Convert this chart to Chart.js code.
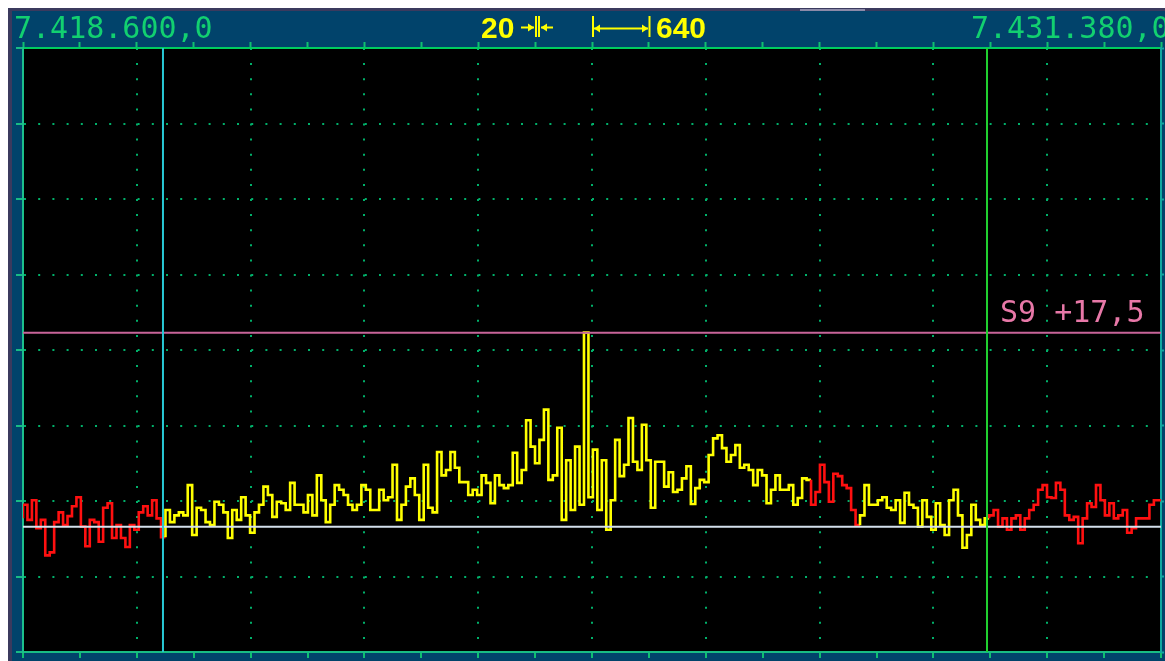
<!DOCTYPE html>
<html lang="pt">
<head>
<meta charset="UTF-8">
<title>Espectro</title>
<script src="https://cdn.jsdelivr.net/npm/chart.js"></script>
<style>
    body { margin: 0; background: #ffffff; }
    .janela { position: absolute; left: 8px; top: 8px; width: 1157px; height: 653px; background: #3b3a5e; }
    .painel { position: absolute; left: 4px; top: 3px; right: 0; bottom: 0; background: #01436b; }
    .barra { position: absolute; left: 792px; top: 1px; width: 65px; height: 2px; background: #8c8aa8; }
    canvas { position: absolute; left: 0; top: 0; }
</style>
</head>
<body>
<div class="janela"><div class="barra"></div><div class="painel"></div></div>
<canvas id="espectro" width="1165" height="661"></canvas>

<script>
    // faixa mostrada (Hz) e largura de cada barra do espectro
    var freqIni = 7418600;
    var freqFim = 7431380;
    var larguraBin = 50;
    var passoTick = 639;

    var rotulosFreq = ['7.418.600,0', '7.431.380,0'];
    var textoResolucao = '20';
    var textoPasso = '640';
    var rotuloNivel = 'S9 +17,5';

    // niveis em dB (0 = base da grade, 10 dB por divisao)
    var niveisY = [0, 10, 20, 30, 40, 50, 60, 70, 80];
    var nivelRef = 42.3;
    var nivelRuido = 16.6;

    // marcadores do filtro
    var marcadorIni = 7420172;
    var marcadorFim = 7429426;
    var zonasVermelhas = [[7418600, 7420172], [7427430, 7427980], [7429426, 7431400]];

    var niveis = [
        17.7, 19.5, 17.5, 20.1, 16.4, 17.5, 12.8, 13.2, 17.2, 18.5,
        16.8, 18.0, 19.3, 20.5, 16.6, 14.0, 17.5, 17.2, 14.6, 19.1,
        19.7, 15.1, 16.8, 15.1, 13.9, 16.8, 16.2, 18.5, 19.3, 18.1,
        20.1, 17.7, 15.2, 18.8, 17.2, 18.1, 18.5, 18.1, 22.1, 15.5,
        19.1, 18.8, 17.2, 16.8, 19.9, 19.5, 18.5, 15.1, 18.8, 17.5,
        20.5, 18.1, 15.8, 18.5, 19.5, 21.9, 20.8, 17.9, 19.9, 19.7,
        18.8, 22.4, 19.5, 19.5, 18.5, 20.8, 18.1, 23.4, 20.1, 17.2,
        19.5, 22.1, 21.5, 20.8, 19.5, 18.8, 19.5, 22.1, 21.5, 18.8,
        18.8, 21.5, 20.1, 20.5, 24.8, 17.5, 19.5, 21.9, 23.0, 20.8,
        17.5, 24.8, 19.1, 18.5, 26.5, 23.4, 24.1, 26.5, 24.4, 22.5,
        22.5, 20.8, 21.5, 20.8, 23.4, 22.4, 19.7, 23.4, 22.1, 21.7,
        22.1, 26.4, 22.4, 24.1, 30.7, 27.2, 25.0, 28.1, 32.1, 22.8,
        23.4, 29.7, 17.5, 25.4, 18.8, 27.2, 19.5, 42.3, 20.5, 26.8,
        18.8, 25.4, 16.2, 20.1, 28.1, 23.3, 24.8, 31.0, 25.2, 24.1,
        30.1, 25.4, 19.1, 25.2, 25.2, 21.9, 23.8, 21.2, 21.5, 23.0,
        24.6, 19.6, 21.7, 22.8, 22.5, 26.1, 28.3, 28.7, 27.0, 25.2,
        26.1, 27.4, 24.4, 24.8, 24.1, 22.1, 24.1, 23.4, 19.7, 21.5,
        23.4, 21.5, 21.5, 22.1, 19.5, 20.4, 23.0, 22.8, 19.5, 21.2,
        24.8, 22.5, 19.9, 23.6, 23.3, 22.1, 21.7, 18.8, 16.8, 18.1,
        22.1, 19.5, 19.5, 20.1, 20.5, 19.1, 18.8, 20.1, 17.1, 21.1,
        19.5, 19.1, 16.6, 20.1, 17.9, 16.2, 19.7, 16.8, 15.5, 20.1,
        21.5, 18.1, 13.8, 15.5, 19.5, 17.5, 16.8, 17.7, 18.1, 18.8,
        16.6, 17.7, 16.2, 17.7, 18.1, 16.2, 17.7, 18.8, 19.5, 21.5,
        22.1, 20.5, 20.4, 22.4, 21.5, 18.1, 17.5, 17.9, 14.4, 17.7,
        19.7, 19.2, 22.1, 20.1, 18.1, 19.7, 17.7, 18.1, 18.8, 15.8,
        16.4, 17.7, 17.7, 17.7, 19.5, 20.1
    ];

    var pontos = niveis.map(function (v, i) { return { x: freqIni + i * larguraBin, y: v }; });
    pontos.push({ x: freqIni + niveis.length * larguraBin, y: niveis[niveis.length - 1] });

    var ticksFreq = [];
    for (var f = freqIni; f <= freqFim; f += passoTick) ticksFreq.push({ value: f });

    function corDoTrecho(x) {
        for (var i = 0; i < zonasVermelhas.length; i++) {
            if (x >= zonasVermelhas[i][0] && x < zonasVermelhas[i][1]) return '#ff1010';
        }
        return '#ffff00';
    }

    function seta(ctx, x1, x2, y) {
        var d = x2 > x1 ? 1 : -1;
        ctx.beginPath();
        ctx.moveTo(x1, y);
        ctx.lineTo(x2, y);
        ctx.stroke();
        ctx.beginPath();
        ctx.moveTo(x2, y);
        ctx.lineTo(x2 - d * 6, y - 4);
        ctx.lineTo(x2 - d * 6, y + 4);
        ctx.closePath();
        ctx.fill();
    }

    function barraV(ctx, x) {
        ctx.beginPath();
        ctx.moveTo(x, 16);
        ctx.lineTo(x, 37);
        ctx.stroke();
    }

    var moldura = {
        id: 'moldura',
        beforeDraw: function (chart) {
            var a = chart.chartArea, ctx = chart.ctx;
            ctx.save();
            ctx.fillStyle = '#000000';
            ctx.fillRect(a.left, a.top, a.right - a.left, a.bottom - a.top);
            ctx.restore();
        },
        afterDraw: function (chart) {
            var ctx = chart.ctx;
            var y = chart.scales.y;
            ctx.save();
            ctx.textBaseline = 'alphabetic';
            ctx.font = '30px "DejaVu Sans Mono"';
            ctx.fillStyle = '#12d070';
            ctx.fillText(rotulosFreq[0], 14, 38);
            ctx.fillText(rotulosFreq[1], 971, 38);

            ctx.fillStyle = '#e878a8';
            ctx.fillText(rotuloNivel, 1000, y.getPixelForValue(nivelRef) - 11);

            ctx.font = 'bold 30px "Liberation Sans"';
            ctx.fillStyle = '#ffff00';
            ctx.fillText(textoResolucao, 481, 38);
            ctx.fillText(textoPasso, 656, 38);

            ctx.strokeStyle = '#ffff00';
            ctx.lineWidth = 2;
            seta(ctx, 521, 534, 27.5);
            barraV(ctx, 536);
            barraV(ctx, 539);
            seta(ctx, 553, 541, 27.5);
            barraV(ctx, 593);
            seta(ctx, 620, 594, 28.5);
            seta(ctx, 620, 648, 28.5);
            barraV(ctx, 649.5);
            ctx.restore();
        }
    };

    function linhaV(f, cor) {
        return { data: [{ x: f, y: niveisY[0] }, { x: f, y: niveisY[niveisY.length - 1] }],
                 borderColor: cor, borderWidth: 2, pointRadius: 0 };
    }
    function linhaH(v, cor) {
        return { data: [{ x: freqIni, y: v }, { x: freqFim, y: v }],
                 borderColor: cor, borderWidth: 2, pointRadius: 0 };
    }

    var pontinho = '#00b06a';
    var eixoX = {
        type: 'linear', min: freqIni, max: freqFim,
        afterBuildTicks: function (ax) { ax.ticks = ticksFreq.slice(); },
        ticks: { display: false },
        grid: {
            color: function (c) { return c.index % 2 === 0 ? pontinho : 'rgba(0,0,0,0)'; },
            lineWidth: 2, tickLength: 6, tickColor: '#10c070', tickWidth: 2
        },
        border: { color: '#18bc84', width: 2, dash: [2, 13.1] }
    };

    new Chart(document.getElementById('espectro').getContext('2d'), {
        type: 'line',
        data: {
            datasets: [
                linhaV(marcadorIni, '#28c8d4'),
                linhaV(marcadorFim, '#20d030'),
                linhaH(nivelRef, '#c8649a'),
                linhaH(nivelRuido, '#d4e0ec'),
                {
                    data: pontos,
                    borderColor: '#ffff00',
                    borderWidth: 2.6,
                    pointRadius: 0,
                    stepped: 'after',
                    segment: { borderColor: function (c) { return corDoTrecho(c.p0.parsed.x); } }
                }
            ]
        },
        options: {
            responsive: false,
            animation: false,
            events: [],
            layout: { padding: { left: 16, top: 42, right: 1, bottom: 3 } },
            plugins: { legend: { display: false }, tooltip: { enabled: false } },
            scales: {
                x: Object.assign({}, eixoX, { position: 'bottom' }),
                x2: Object.assign({}, eixoX, {
                    position: 'top',
                    grid: { drawOnChartArea: false, tickLength: 6, tickColor: '#10c070', tickWidth: 2 },
                    border: { color: '#00cc60', width: 2 }
                }),
                y: {
                    min: niveisY[0], max: niveisY[niveisY.length - 1],
                    afterBuildTicks: function (ax) { ax.ticks = niveisY.map(function (v) { return { value: v }; }); },
                    ticks: { display: false },
                    grid: { color: pontinho, lineWidth: 2, tickLength: 7, tickColor: '#18bc84', tickWidth: 2 },
                    border: { color: '#1cc08c', width: 2, dash: [2, 12.2] }
                },
                y2: {
                    position: 'right',
                    min: niveisY[0], max: niveisY[niveisY.length - 1],
                    afterBuildTicks: function (ax) { ax.ticks = niveisY.map(function (v) { return { value: v }; }); },
                    ticks: { display: false },
                    grid: { drawOnChartArea: false, tickLength: 3, tickColor: '#10a8a0', tickWidth: 2 },
                    border: { color: '#10a8a0', width: 2 }
                }
            }
        },
        plugins: [moldura]
    });
</script>
</body>
</html>
